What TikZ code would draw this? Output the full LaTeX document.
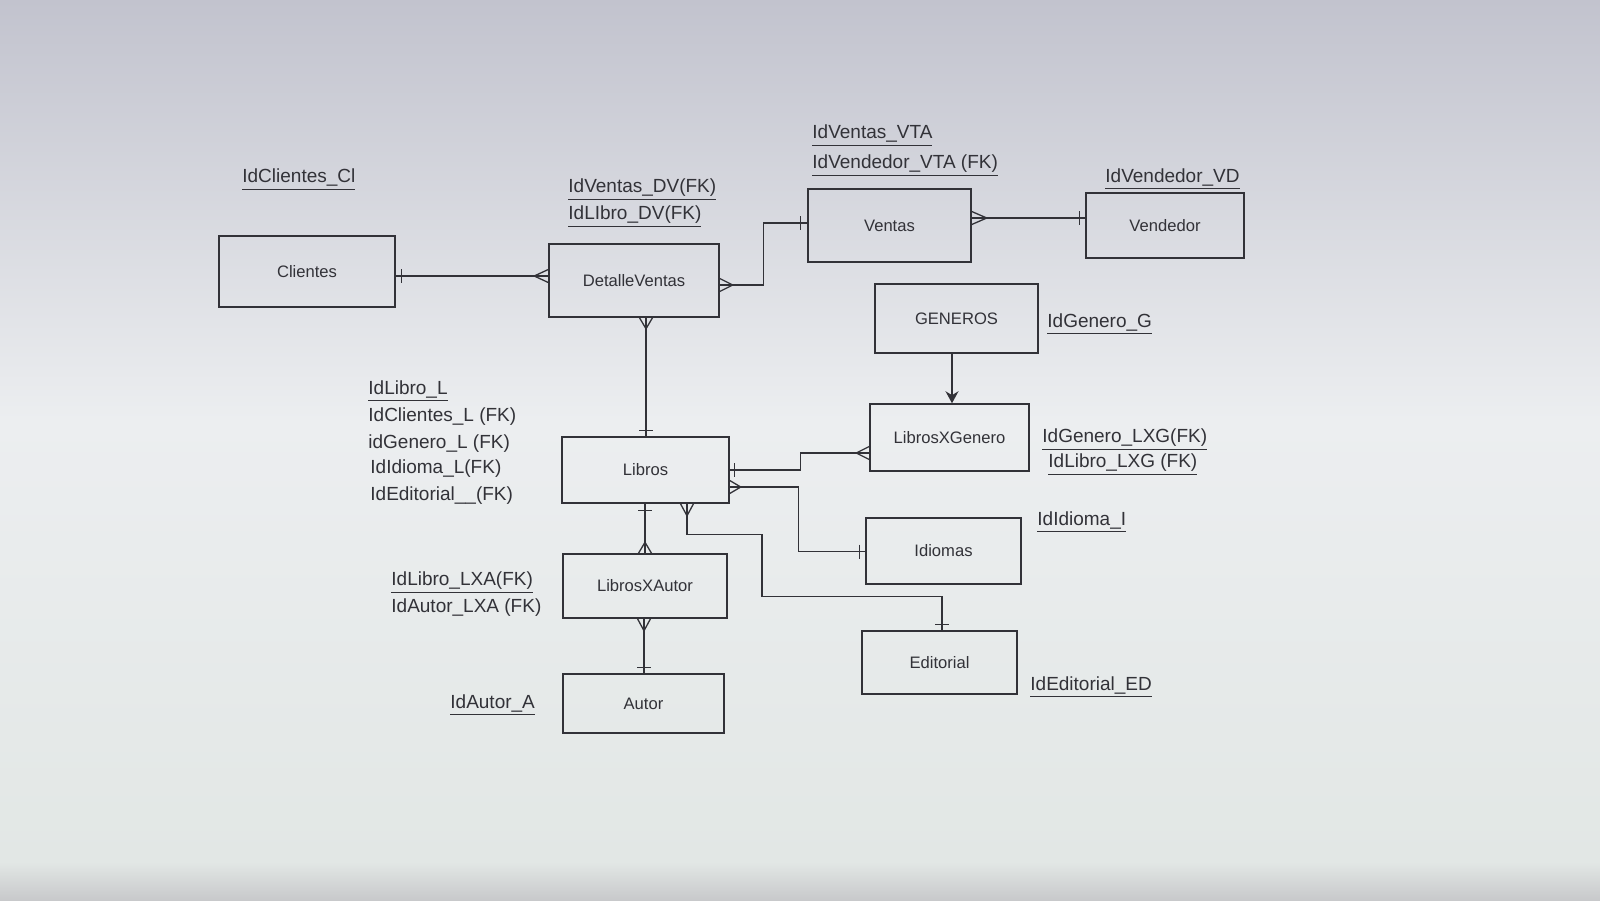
\documentclass[tikz,border=0pt]{standalone}
\usepackage{fontspec}
\setmainfont{Liberation Sans}
\usetikzlibrary{calc,arrows.meta}
\definecolor{ink}{RGB}{50,50,56}
\definecolor{bgtop}{RGB}{194,195,206}
\definecolor{bgmid}{RGB}{236,238,240}
\definecolor{bgbot}{RGB}{226,231,229}
\definecolor{bgstrip}{RGB}{200,201,203}
\newcommand\barh[2]{\draw[conn] ($(#1)+(#2,-7)$) -- ($(#1)+(#2,7)$);}
\newcommand\barv[2]{\draw[conn] ($(#1)+(-7,#2)$) -- ($(#1)+(7,#2)$);}
\newcommand\crowh[2]{\draw[conn] ($(#1)+(0,-6.5)$) -- ($(#1)+(#2,0)$) -- ($(#1)+(0,6.5)$);}
\newcommand\crowv[2]{\draw[conn] ($(#1)+(-6.5,0)$) -- ($(#1)+(0,#2)$) -- ($(#1)+(6.5,0)$);}
\tikzset{
  ent/.style={draw=ink, line width=0.75pt, text=ink, font=\fontsize{8.3}{10}\selectfont, inner sep=0pt},
  attr/.style={anchor=west, yshift=-1.5pt, text=ink, font=\fontsize{9.5}{11}\selectfont, inner sep=0pt},
  conn/.style={draw=ink, line width=0.65pt}
}
\begin{document}
\begin{tikzpicture}[x=0.5pt, y=-0.5pt]
\useasboundingbox (0,0) rectangle (1600,900);
% background (photo of a screen)
\fill[top color=bgtop, bottom color=bgmid] (0,0) rectangle (1600,420);
\fill[top color=bgmid, bottom color=bgbot] (0,420) rectangle (1600,862);
\fill[top color=bgbot, bottom color=bgstrip] (0,862) rectangle (1600,900);

% entities
\node[ent, minimum width=88pt, minimum height=35.5pt] (cl) at (307,271.5) {Clientes};
\node[ent, minimum width=85pt, minimum height=36.5pt] (dv) at (634,280.5) {DetalleVentas};
\node[ent, minimum width=81.5pt, minimum height=36.5pt] (ve) at (889.5,225.5) {Ventas};
\node[ent, minimum width=79pt, minimum height=32.5pt] (vd) at (1165,225.5) {Vendedor};
\node[ent, minimum width=81.5pt, minimum height=34.5pt] (ge) at (956.5,318.5) {GENEROS};
\node[ent, minimum width=79.5pt, minimum height=33.5pt] (lxg) at (949.5,437.5) {LibrosXGenero};
\node[ent, minimum width=83.5pt, minimum height=33pt] (li) at (645.5,470) {Libros};
\node[ent, minimum width=77.5pt, minimum height=33pt] (id) at (943.5,551) {Idiomas};
\node[ent, minimum width=77.5pt, minimum height=31.5pt] (ed) at (939.5,662.5) {Editorial};
\node[ent, minimum width=82pt, minimum height=32pt] (lxa) at (645,586) {LibrosXAutor};
\node[ent, minimum width=80.5pt, minimum height=29.5pt] (au) at (643.5,703.5) {Autor};

% attributes
\node[attr] (t1) at (242,177) {\underline{IdClientes\_Cl}};
\node[attr] (t2) at (568,187) {\underline{IdVentas\_DV(FK)}};
\node[attr] (t3) at (568,214) {\underline{IdLIbro\_DV(FK)}};
\node[attr] (t4) at (812,133) {\underline{IdVentas\_VTA}};
\node[attr] (t5) at (812,163) {\underline{IdVendedor\_VTA (FK)}};
\node[attr] (t6) at (1105,176) {\underline{IdVendedor\_VD}};
\node[attr] (t7) at (1047,321) {\underline{IdGenero\_G}};
\node[attr] (t8) at (1042,437) {\underline{IdGenero\_LXG(FK)}};
\node[attr] (t9) at (1048,462) {\underline{IdLibro\_LXG (FK)}};
\node[attr] (t10) at (368,388) {\underline{IdLibro\_L}};
\node[attr] (t11) at (368,414) {IdClientes\_L (FK)};
\node[attr] (t12) at (368,441) {idGenero\_L (FK)};
\node[attr] (t13) at (370,466) {IdIdioma\_L(FK)};
\node[attr] (t14) at (370,493) {IdEditorial\_\_(FK)};
\node[attr] (t15) at (1037,519) {\underline{IdIdioma\_I}};
\node[attr] (t16) at (1030,684) {\underline{IdEditorial\_ED}};
\node[attr] (t17) at (391,580) {\underline{IdLibro\_LXA(FK)}};
\node[attr] (t18) at (391,605) {IdAutor\_LXA (FK)};
\node[attr] (t19) at (450,702) {\underline{IdAutor\_A}};

% connector end points
\coordinate (a1) at (cl.east |- 0,276);
\coordinate (a2) at (dv.west |- 0,276);
\coordinate (b1) at (dv.east |- 0,285);
\coordinate (b2) at (ve.west |- 0,223);
\coordinate (c1) at (ve.east |- 0,218);
\coordinate (c2) at (vd.west |- 0,218);
\coordinate (d1) at (dv.south -| 646,0);
\coordinate (d2) at (li.north -| 646,0);
\coordinate (e1) at (ge.south -| 952,0);
\coordinate (e2) at (lxg.north -| 952,0);
\coordinate (f1) at (li.east |- 0,470);
\coordinate (f2) at (lxg.west |- 0,453);
\coordinate (g1) at (li.east |- 0,487);
\coordinate (g2) at (id.west |- 0,551.5);
\coordinate (h1) at (li.south -| 687,0);
\coordinate (h2) at (ed.north -| 942,0);
\coordinate (i1) at (li.south -| 645,0);
\coordinate (i2) at (lxa.north -| 645,0);
\coordinate (j1) at (lxa.south -| 644,0);
\coordinate (j2) at (au.north -| 644,0);

% connectors
\draw[conn] (a1) -- (a2); \barh{a1}{6} \crowh{a2}{-14}
\draw[conn] (b1) -- ++(44,0) |- (b2); \crowh{b1}{13} \barh{b2}{-7}
\draw[conn] (c1) -- (c2); \crowh{c1}{15} \barh{c2}{-6}
\draw[conn] (d1) -- (d2); \crowv{d1}{11} \barv{d2}{-6}
\draw[conn, -{Stealth[length=6pt,width=6.5pt]}] (e1) -- (e2);
\draw[conn] (f1) -- ++(71,0) |- (f2); \barh{f1}{5} \crowh{f2}{-13}
\draw[conn] (g1) -- ++(69,0) |- (g2); \crowh{g1}{11} \barh{g2}{-6}
\draw[conn] (h1) -- ++(0,31) -- ++(75,0) -- ++(0,62) -| (h2); \crowv{h1}{12} \barv{h2}{-6}
\draw[conn] (i1) -- (i2); \barv{i1}{7} \crowv{i2}{-11}
\draw[conn] (j1) -- (j2); \crowv{j1}{12} \barv{j2}{-6}
\end{tikzpicture}
\end{document}
